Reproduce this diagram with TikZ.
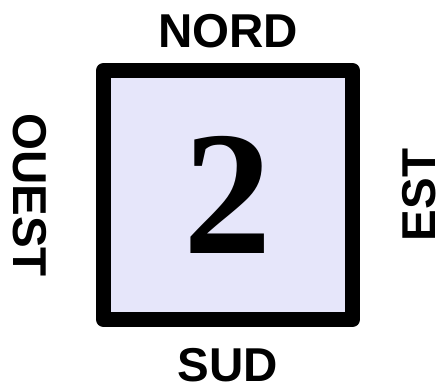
\documentclass[tikz,border=0pt]{standalone}
\usepackage{fontspec}
\setmainfont{Liberation Serif}
\newfontfamily\labelfont{Liberation Sans}
\usetikzlibrary{positioning}
\definecolor{tilefill}{RGB}{230,230,250}

\begin{document}
\begin{tikzpicture}[
  x=1pt, y=-1pt,
  tile/.style={draw, line width=15pt, line join=round, fill=tilefill, minimum size=249pt, inner sep=0pt},
  side/.style={font=\labelfont\bfseries\fontsize{47.5}{47.5}\selectfont, inner sep=0pt}
]
\useasboundingbox (0,0) rectangle (441,381);

% Tile with its number
\node[tile] (sq) at (228,195) {\bfseries\fontsize{177}{177}\selectfont 2};

% Compass labels around the tile
\node[side, above=14.5pt of sq] (nord) {NORD};
\node[side, below=21pt of sq] (sud) {SUD};
\node[side, rotate=-90, anchor=north] (ouest) at ([xshift=-49pt]sq.west) {OUEST};
\node[side, rotate=90, anchor=north] (est) at ([xshift=42pt]sq.east) {EST};

\end{tikzpicture}
\end{document}
